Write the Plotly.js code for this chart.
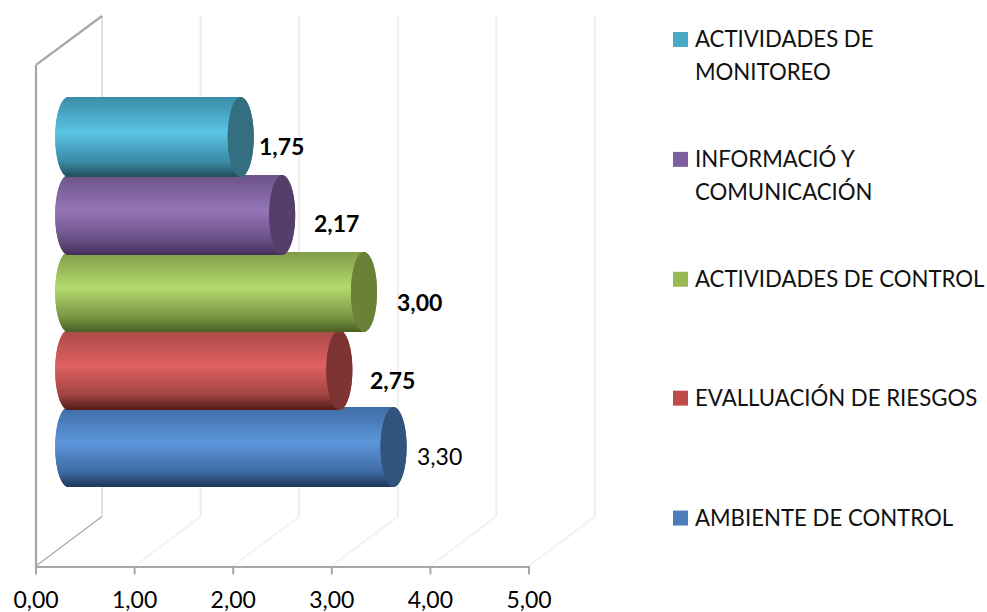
<!DOCTYPE html>
<html><head><meta charset="utf-8">
<script src="https://cdn.plot.ly/plotly-3.0.0.min.js"></script>
<style>html,body{margin:0;padding:0;background:#fff}</style></head>
<body><div id="chart" style="width:987px;height:612px"></div>
<script>
// Data, bottom to top
const categories = ["AMBIENTE DE CONTROL","EVALLUACIÓN DE RIESGOS","ACTIVIDADES DE CONTROL","INFORMACIÓ Y COMUNICACIÓN","ACTIVIDADES DE MONITOREO"];
const values = [3.30, 2.75, 3.00, 2.17, 1.75];
const valueLabels = ["3,30","2,75","3,00","2,17","1,75"];
const labelBold = [false,true,true,true,true];
const tickVals = [0,1,2,3,4,5];
const tickText = ["0,00","1,00","2,00","3,00","4,00","5,00"];
const legendLines = [["AMBIENTE DE CONTROL"],["EVALLUACIÓN DE RIESGOS"],["ACTIVIDADES DE CONTROL"],["INFORMACIÓ Y","COMUNICACIÓN"],["ACTIVIDADES DE","MONITOREO"]];
const swatch = ["#4a7ebb","#be4b48","#98b954","#7d5fa0","#46aac5"];
// shading stops: top edge, highlight, lower, bottom edge, end cap
const shadeTop = ["#3f6da6","#a84a47","#7f9c48","#6d5288","#3c8ca8"];
const shadeMid = ["#5c95da","#e06060","#b3da6d","#9476b7","#58c4e3"];
const shadeLow = ["#3f6ba3","#a04543","#7a9643","#6a4f85","#3a8aa5"];
const shadeEnd = ["#1f3a5e","#541d1b","#4c6226","#44305d","#23505e"];
const capColor = ["#31547f","#7e3432","#6b8138","#553f6a","#336f80"];
const labelShift = [78, 85, 88, 87, 73];
const labelDy = [9, 10, 10, 8, 9];

// Geometry
const L=36,R=529,T=16,B=566.5,PXU=98.6,ROW=77.5;
const yMin=-(B-447.5)/ROW, yMax=(447.5-T)/ROW;
const depth=32.2/PXU, rx=13/PXU, radius=39.5/ROW, N=79;
function hex(c){return [1,3,5].map(i=>parseInt(c.substr(i,2),16));}
function mix(a,b,f){const A=hex(a),B2=hex(b);return 'rgb('+A.map((v,i)=>Math.round(v+(B2[i]-v)*f)).join(',')+')';}
function shade(i,u){ // u: 0 top .. 1 bottom
  if(u<0.45) return mix(shadeTop[i],shadeMid[i],u/0.45);
  if(u<0.82) return mix(shadeMid[i],shadeLow[i],(u-0.45)/0.37);
  return mix(shadeLow[i],shadeEnd[i],(u-0.82)/0.18);
}
const traces=[];
categories.forEach((cat,i)=>{
  const ys=[],len=[],base=[],col=[],capB=[],capX=[];
  const h=2*radius/N;
  for(let k=0;k<N;k++){
    const u=(k+0.5)/N, t=2*u-1, s=rx*Math.sqrt(1-t*t);
    ys.push(i-radius*t);
    base.push(depth-s); len.push(values[i]+s);
    capB.push(values[i]+depth-s); capX.push(2*s);
    col.push(shade(i,u));
  }
  const w=ys.map(()=>h);
  traces.push({type:'bar',orientation:'h',name:cat,y:ys,x:len,base:base,width:w,opacity:1,marker:{color:col,opacity:1,line:{width:0}},hoverinfo:'skip',showlegend:false});
  traces.push({type:'bar',orientation:'h',name:cat+' end',y:ys,x:capX,base:capB,width:w,opacity:1,marker:{color:capColor[i],opacity:1,line:{width:0}},hoverinfo:'skip',showlegend:false});
});

// Walls (paper coordinates derived from axis scale)
const wx=66/(R-L), wy=49.5/(B-T), wallTop=(B-65)/(B-T);
const shapes=[];
function seg(x0,y0,x1,y1,c,w){shapes.push({type:'line',xref:'paper',yref:'paper',layer:'below',x0,y0,x1,y1,line:{color:c,width:w}});}
tickVals.forEach(k=>{
  seg(k/5+wx,wy,k/5+wx,1,'#eeeeee',2);
  if(k>0) seg(k/5,0,k/5+wx,wy,'#eeeeee',1.5);
  seg(k/5,0,k/5,-8.5/(B-T),'#a6a6a6',2);
});
seg(wx,wy,wx,1,'#dddddd',1.5);
seg(0,0,wx,wy,'#a6a6a6',1.2);
seg(0,0,0,wallTop,'#a6a6a6',2.2);
seg(0,wallTop,wx,1,'#a6a6a6',2.2);

// Legend and labels
const annotations=[];
const FS=23;
const legY=[518,398,279,159,39];
const LEG=33;
const px=p=>(p-L)/(R-L), py=p=>(B-p)/(B-T);
categories.forEach((c,i)=>{
  shapes.push({type:'rect',xref:'paper',yref:'paper',layer:'above',x0:px(673),x1:px(688),y0:py(legY[i]+8),y1:py(legY[i]-7),fillcolor:swatch[i],line:{width:0}});
  legendLines[i].forEach((ln,j)=>annotations.push({xref:'paper',yref:'paper',x:px(693),y:py(legY[i]+j*LEG),xanchor:'left',yanchor:'middle',showarrow:false,text:ln,font:{family:'Lato',size:22.2,color:'#111'}}));
  annotations.push({xref:'x',yref:'y',x:values[i],y:i,xshift:labelShift[i],yshift:-labelDy[i],showarrow:false,xanchor:'center',yanchor:'middle',
    text:labelBold[i]?'<b>'+valueLabels[i]+'</b>':valueLabels[i],font:{family:'Lato',size:FS,color:'#000'}});
});

Plotly.newPlot('chart',traces,{
  width:987,height:612,margin:{l:L,r:987-R,t:T,b:612-B,pad:0},
  paper_bgcolor:'#fff',plot_bgcolor:'rgba(0,0,0,0)',barmode:'overlay',showlegend:false,
  xaxis:{range:[0,5],tickmode:'array',tickvals:tickVals,ticktext:tickText,ticks:'outside',ticklen:12,tickwidth:2,tickcolor:'rgba(0,0,0,0)',
    showgrid:false,zeroline:false,showline:true,linecolor:'#a6a6a6',linewidth:2,tickfont:{family:'Lato',size:FS,color:'#000'},fixedrange:true},
  yaxis:{range:[yMin,yMax],visible:false,fixedrange:true},
  shapes,annotations
},{displayModeBar:false});
</script></body></html>
